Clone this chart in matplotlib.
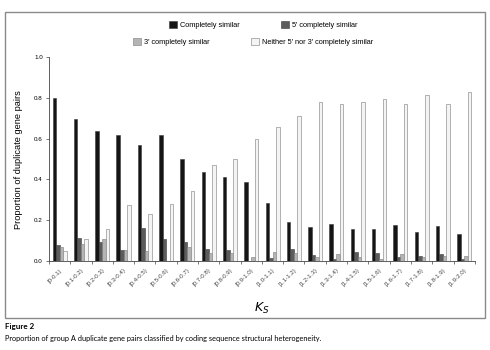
import numpy as np
import matplotlib.pyplot as plt
from matplotlib.patches import Rectangle

plt.rcParams['font.family'] = ['Liberation Sans', 'DejaVu Sans']

# Ks bins
ks_bins = ["[0-0.1)", "[0.1-0.2)", "[0.2-0.3)", "[0.3-0.4)", "[0.4-0.5)",
           "[0.5-0.6)", "[0.6-0.7)", "[0.7-0.8)", "[0.8-0.9)", "[0.9-1.0)",
           "[1.0-1.1)", "[1.1-1.2)", "[1.2-1.3)", "[1.3-1.4)", "[1.4-1.5)",
           "[1.5-1.6)", "[1.6-1.7)", "[1.7-1.8)", "[1.8-1.9)", "[1.9-2.0)"]

# proportion of duplicate gene pairs per class
completely_similar = [0.80, 0.695, 0.638, 0.616, 0.567, 0.616, 0.50, 0.434, 0.41, 0.387,
                      0.282, 0.189, 0.164, 0.183, 0.156, 0.158, 0.175, 0.141, 0.169, 0.134]
five_prime_similar = [0.077, 0.113, 0.094, 0.052, 0.159, 0.105, 0.09, 0.056, 0.052, 0.0,
                      0.013, 0.059, 0.030, 0.008, 0.043, 0.036, 0.016, 0.025, 0.031, 0.011]
three_prime_similar = [0.069, 0.082, 0.107, 0.052, 0.046, 0.0, 0.067, 0.038, 0.036, 0.016,
                       0.044, 0.036, 0.020, 0.031, 0.016, 0.007, 0.031, 0.018, 0.025, 0.021]
neither_similar = [0.046, 0.108, 0.156, 0.272, 0.228, 0.277, 0.341, 0.472, 0.50, 0.597,
                   0.656, 0.713, 0.780, 0.773, 0.779, 0.793, 0.772, 0.813, 0.772, 0.830]

series = [
    ("Completely similar", completely_similar, "#151515"),
    ("5' completely similar", five_prime_similar, "#5c5c5c"),
    ("3' completely similar", three_prime_similar, "#b4b4b4"),
    ("Neither 5' nor 3' completely similar", neither_similar, "#f4f4f4"),
]

fig = plt.figure(figsize=(4.9, 3.5), dpi=100)
ax = fig.add_axes([0.1, 0.255, 0.869, 0.581])

x = np.arange(len(ks_bins))
w = 0.165
handles = []
for i, (name, vals, col) in enumerate(series):
    b = ax.bar(x + (i - 1.5) * w, vals, width=w, color=col,
               edgecolor="#3a3a3a" if i < 2 else "#7a7a7a", linewidth=0.4, label=name)
    handles.append(b)

ax.set_xlim(-0.5, len(ks_bins) - 0.5)
ax.set_ylim(0, 1.0)
ax.set_yticks(np.arange(0, 1.01, 0.2))
ax.set_yticklabels([f"{v:.1f}" for v in np.arange(0, 1.01, 0.2)], fontsize=4.5)
ax.set_xticks(x)
ax.set_xticklabels(ks_bins, rotation=45, ha="right", rotation_mode="anchor",
                   fontsize=4.4, color="#444444")
ax.set_xticks(np.arange(-0.5, len(ks_bins), 1.0), minor=True)
ax.tick_params(axis="x", which="major", length=0, pad=5)
ax.tick_params(axis="x", which="minor", length=2, width=0.5, color="#444444")
ax.tick_params(axis="y", length=2.5, width=0.5, pad=2, color="#444444")

for s in ["top", "right"]:
    ax.spines[s].set_visible(False)
for s in ["left", "bottom"]:
    ax.spines[s].set_linewidth(0.6)
    ax.spines[s].set_color("#444444")

ax.set_ylabel("Proportion of duplicate gene pairs", fontsize=6.7, labelpad=8)
ax.set_xlabel("$K_S$", fontsize=9, labelpad=10)

# legend in two rows
leg_kw = dict(loc="center", ncol=2, frameon=False, fontsize=5.3, handlelength=1.1,
              handleheight=1.1, handletextpad=0.4, columnspacing=5.6)
fig.legend(handles=handles[:2], bbox_to_anchor=(0.537, 0.928), **leg_kw)
fig.legend(handles=handles[2:], bbox_to_anchor=(0.516, 0.879), **leg_kw)

# frame around the chart
fig.patches.append(Rectangle((0.011, 0.091), 0.978, 0.875, transform=fig.transFigure,
                             fill=False, edgecolor="#8a8a8a", linewidth=1.0))

fig.text(0.011, 0.066, "Figure 2", fontsize=5.8, fontweight="bold",
         family=["Lato", "DejaVu Sans"], va="center")
fig.text(0.011, 0.034, "Proportion of group A duplicate gene pairs classified by coding "
         "sequence structural heterogeneity.", fontsize=5.3,
         family=["Lato", "DejaVu Sans"], va="center")

fig.savefig("out.png", dpi=100)
